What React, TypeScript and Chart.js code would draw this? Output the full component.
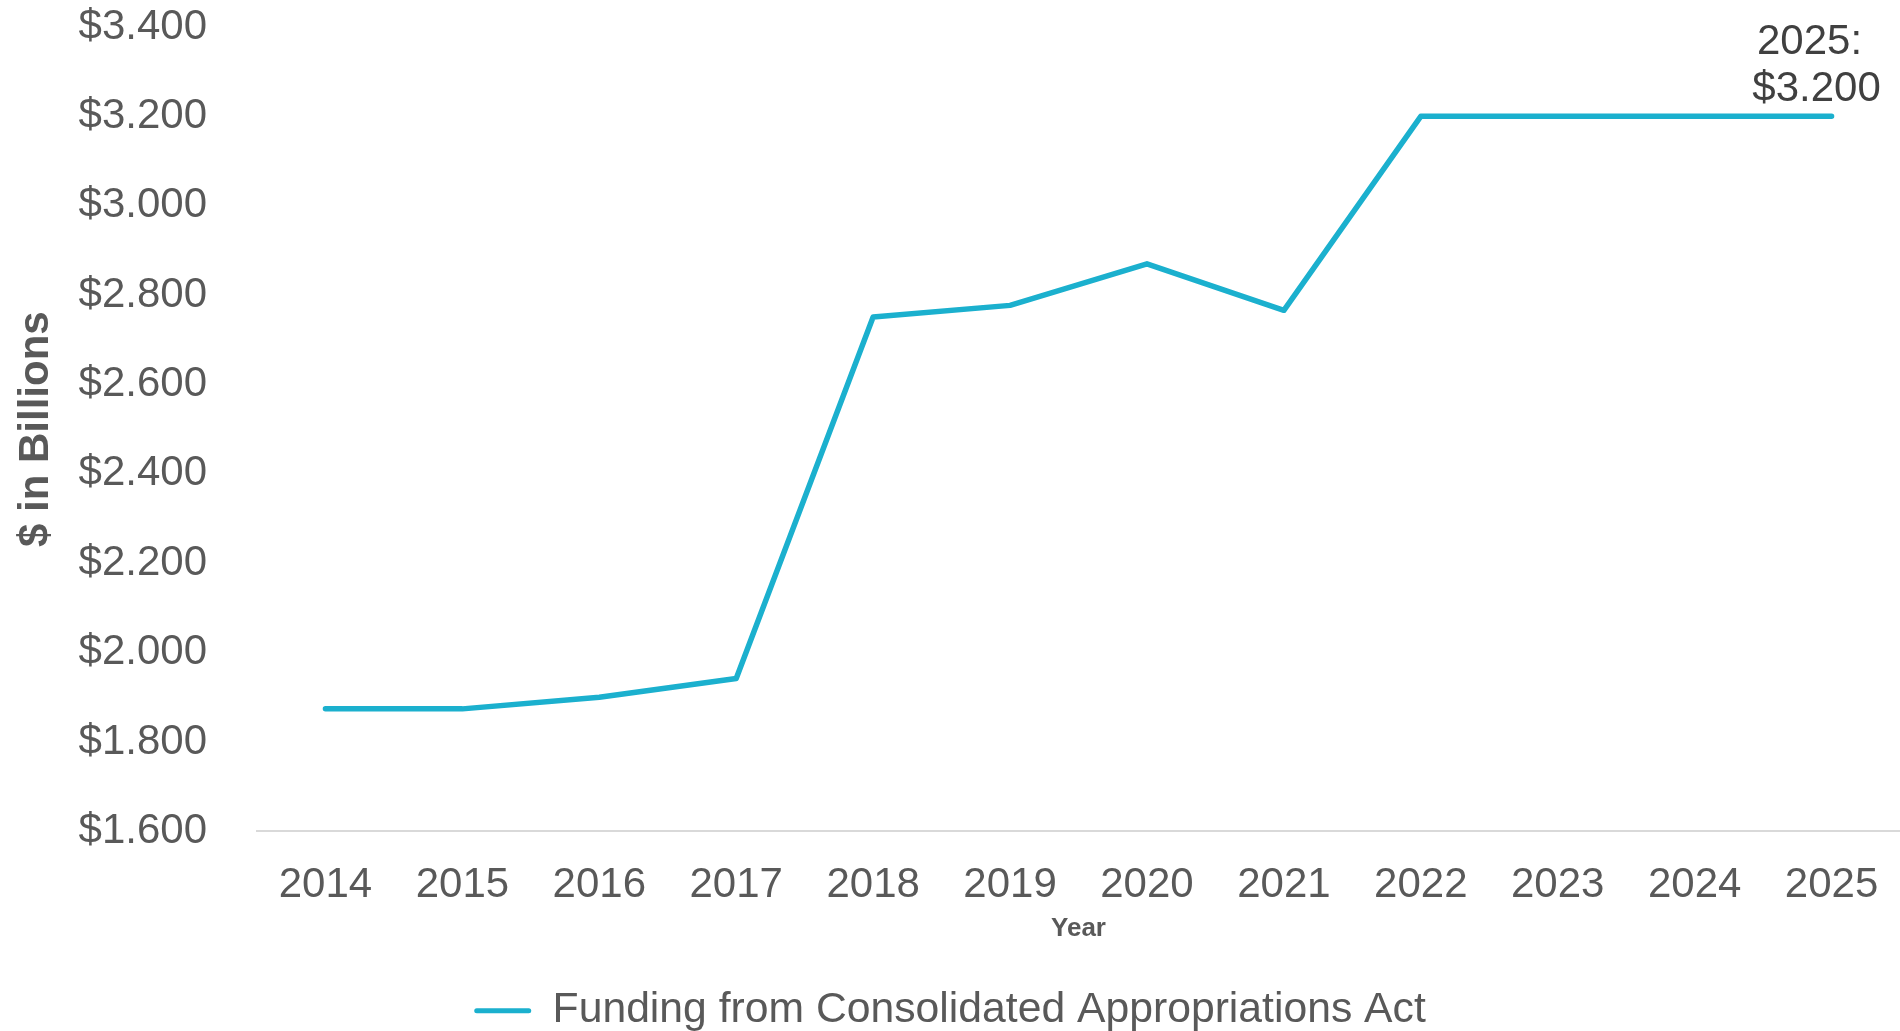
import React, { useEffect, useRef } from "react";
import { Chart, registerables } from "chart.js";

Chart.register(...registerables);

const years = ["2014", "2015", "2016", "2017", "2018", "2019", "2020", "2021", "2022", "2023", "2024", "2025"];
const funding = [1.874, 1.874, 1.9, 1.942, 2.751, 2.777, 2.87, 2.766, 3.2, 3.2, 3.2, 3.2];
const seriesLabel = "Funding from Consolidated Appropriations Act";
const yTitle = "$ in Billions";
const xTitle = "Year";
const yMin = 1.6;
const yMax = 3.4;
const yStep = 0.2;

const FONT = "'Liberation Sans', Arial, sans-serif";
const LINE_COLOR = "#1BB0CE";
const TEXT_COLOR = "#595959";

const fmt = (v: number) => "$" + Number(v).toFixed(3);

const endLabelPlugin = {
  id: "endLabel",
  afterDatasetsDraw(chart: any) {
    const { ctx, scales } = chart;
    const i = years.length - 1;
    const x = scales.x.getPixelForValue(i);
    const y = scales.y.getPixelForValue(funding[i]);
    ctx.save();
    ctx.fillStyle = "#404040";
    ctx.font = `42px ${FONT}`;
    ctx.textAlign = "center";
    ctx.textBaseline = "middle";
    ctx.fillText(years[i] + ":", x - 22, y - 74);
    ctx.fillText(fmt(funding[i]), x - 15, y - 27);
    ctx.restore();
  },
};

export default function App() {
  const ref = useRef<HTMLCanvasElement | null>(null);
  useEffect(() => {
    if (!ref.current) return;
    const chart = new Chart(ref.current, {
      type: "line",
      data: {
        labels: years,
        datasets: [
          {
            label: seriesLabel,
            data: funding,
            borderColor: LINE_COLOR,
            backgroundColor: LINE_COLOR,
            borderWidth: 5.5,
            pointRadius: 0,
            pointHoverRadius: 0,
            borderCapStyle: "round",
            borderJoinStyle: "round",
            tension: 0,
          },
        ],
      },
      options: {
        animation: false,
        responsive: true,
        maintainAspectRatio: false,
        layout: { padding: { top: 27, left: 0, right: 0, bottom: -11 } },
        plugins: {
          tooltip: { enabled: false },
          legend: {
            position: "bottom",
            labels: {
              font: { family: FONT, size: 42.7 },
              color: TEXT_COLOR,
              boxWidth: 57,
              boxHeight: 5,
              padding: 4,
              useBorderRadius: true,
              borderRadius: 2.5,
              generateLabels(chart: any) {
                const items = Chart.defaults.plugins.legend.labels.generateLabels(chart);
                return items.map((it: any) => ({ ...it, lineWidth: 0, fillStyle: LINE_COLOR, strokeStyle: LINE_COLOR }));
              },
            },
          },
        },
        scales: {
          x: {
            offset: true,
            grid: { display: false, drawTicks: false },
            border: { display: true, color: "#D9D9D9", width: 2 },
            ticks: {
              color: TEXT_COLOR,
              font: { family: FONT, size: 42 },
              padding: 28.5,
              maxRotation: 0,
              autoSkip: false,
            },
            title: {
              display: true,
              text: xTitle,
              color: TEXT_COLOR,
              font: { family: FONT, size: 26, weight: "bold" },
              padding: { top: 0, bottom: 41 },
            },
            afterFit(s: any) {
              s.height = 154;
              s.paddingLeft = 0;
              s.paddingRight = 0;
            },
          },
          y: {
            min: yMin,
            max: yMax,
            grid: { display: false, drawTicks: false },
            border: { display: false },
            ticks: {
              stepSize: yStep,
              color: TEXT_COLOR,
              font: { family: FONT, size: 42 },
              padding: 50,
              callback: (v: any) => fmt(v),
            },
            title: {
              display: true,
              text: yTitle,
              color: TEXT_COLOR,
              font: { family: FONT, size: 42, weight: "bold" },
              padding: { top: 11, bottom: 0 },
            },
            afterFit(s: any) {
              s.width = 257;
              s.paddingTop = 0;
              s.paddingBottom = 0;
            },
          },
        },
      },
      plugins: [endLabelPlugin],
    } as any);
    return () => chart.destroy();
  }, []);
  return (
    <div style={{ position: "absolute", left: 0, top: 0, width: 1900, height: 1031, background: "#fff" }}>
      <canvas ref={ref} />
    </div>
  );
}
